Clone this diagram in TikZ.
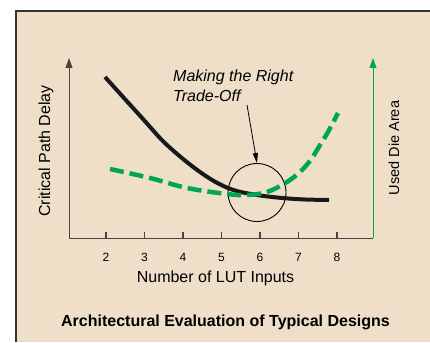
\documentclass[tikz,border=0pt]{standalone}
\usepackage{fontspec}
\setmainfont{Liberation Sans}
\usetikzlibrary{arrows.meta}

\definecolor{paper}{RGB}{239,223,201}
\definecolor{areagreen}{RGB}{0,166,81}
\definecolor{axisgray}{RGB}{72,68,66}

\tikzset{
    axis/.style={axisgray, line width=0.9pt},
    tip/.style={-{Triangle[length=10pt,width=7pt]}},
    textlabel/.style={font=\fontsize{16}{19.5}\selectfont, inner sep=0pt},
}

\begin{document}
\begin{tikzpicture}[x=1pt, y=-1pt]
    \useasboundingbox (0,0) rectangle (430,342);
    \fill[paper] (16,11) rectangle (430,342);
    \draw[line width=2pt, black!80] (16,342) -- (16,11) -- (430,11);

    % axes
    \coordinate (origin) at (69,238);
    \coordinate (delaytop) at (69,58);
    \coordinate (areabot) at (373,238);
    \coordinate (areatop) at (373,58);

    \draw[axis, tip] (origin) -- (delaytop);
    \draw[axis] (origin) -- (areabot);
    \draw[axis, areagreen, tip] (areabot) -- (areatop);

    \foreach \n/\x in {2/106,3/144.5,4/183,5/221.5,6/260,7/298.5,8/337} {
        \draw[axis, line width=1.1pt] (\x,238.5) -- (\x,231.5);
        \node[font=\fontsize{12}{14}\selectfont, inner sep=0pt] (tick\n) at (\x,257) {\n};
    }

    \node[textlabel, anchor=base] (xlabel) at (215.5,282) {Number of LUT Inputs};
    \node[textlabel, anchor=base, rotate=90] (delaylabel) at (50,151) {Critical Path Delay};
    \node[textlabel, anchor=base, rotate=90, font=\fontsize{14.5}{17}\selectfont] (arealabel) at (399,148) {Used Die Area};
    \node[textlabel, anchor=base, font=\fontsize{16}{19.5}\selectfont\bfseries] (title) at (225.5,326)
        {Architectural Evaluation of Typical Designs};

    % the sweet spot
    \node[draw, circle, line width=0.9pt, minimum size=58pt, inner sep=0pt] (tradeoff) at (257,192.5) {};
    \node[textlabel, anchor=north west, align=left, font=\fontsize{16}{19.5}\selectfont\itshape] (note) at (173,70)
        {Making the Right\\Trade-Off};
    \coordinate (notefoot) at (247,105);
    \draw[line width=0.8pt, -{Triangle[length=10pt,width=5pt]}] (notefoot) -- (tradeoff.north);

    % delay falls, area grows
    \draw[line width=4pt, black!90] plot[smooth, tension=0.6] coordinates
        {(105,77) (143,119) (167,145) (200,172) (228,188) (257,195) (295,199) (329,200)};
    \draw[line width=4.5pt, areagreen, dash pattern=on 14pt off 6pt] plot[smooth, tension=0.6] coordinates
        {(110,169) (150,178) (187,188) (227,194) (247,195) (267,192) (287,182) (302,170) (312,158) (320,145) (328,132) (338,113)};
\end{tikzpicture}
\end{document}
